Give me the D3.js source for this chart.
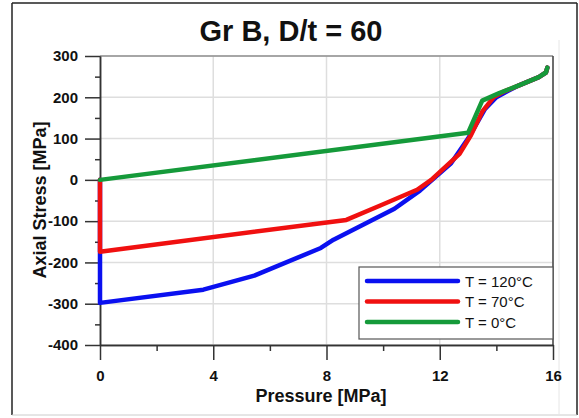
<!DOCTYPE html>
<html>
<head>
<meta charset="utf-8">
<script src="https://cdn.jsdelivr.net/npm/d3@7"></script>
<style>
  html, body { margin: 0; padding: 0; background: #fff; }
  svg { display: block; font-family: "Liberation Sans", Arial, sans-serif; }
</style>
</head>
<body>
<svg id="chart" width="579" height="418"></svg>
<script>
// Pressure [MPa] vs axial stress [MPa] for three temperatures
const seriesNames = ["T = 120°C", "T = 70°C", "T = 0°C"];
const seriesColors = ["#0a10f0", "#f01010", "#159a3a"];

const pressure120 = [0, 0, 3.65, 5.45, 7.8, 8.25, 10.4, 11.3, 12.4, 13.0, 13.6, 14.0, 14.4, 14.8, 15.5, 15.75, 15.8];
const stress120   = [0, -298, -266, -232, -165, -145, -70, -26, 40, 100, 172, 200, 215, 229, 249, 260, 272];

const pressure70 = [0, 0, 8.7, 9.9, 11.2, 11.7, 12.7, 13.1, 13.5, 13.9, 14.3, 14.8, 15.5, 15.75, 15.8];
const stress70   = [0, -174, -97, -62, -24, 0, 63, 108, 165, 200, 215, 229, 249, 260, 272];

const pressure0 = [0, 13.0, 13.5, 14.1, 14.8, 15.5, 15.75, 15.8];
const stress0   = [0, 114, 192, 210, 229, 249, 260, 272];

const xMajorTicks = [0, 4, 8, 12, 16];
const xMinorTicks = [2, 6, 10, 14];
const yMajorTicks = [300, 200, 100, 0, -100, -200, -300, -400];
const yMinorTicks = [250, 150, 50, -50, -150, -250, -350];

const series = [
  { name: seriesNames[0], color: seriesColors[0], px: pressure120, sy: stress120 },
  { name: seriesNames[1], color: seriesColors[1], px: pressure70, sy: stress70 },
  { name: seriesNames[2], color: seriesColors[2], px: pressure0, sy: stress0 }
];

const svg = d3.select("#chart");

const x = d3.scaleLinear().domain([0, 16]).range([100, 553]);
const y = d3.scaleLinear().domain([-400, 300]).range([345, 56]);

// outer frame
svg.append("line").attr("x1", 12).attr("x2", 12).attr("y1", 3).attr("y2", 415).attr("stroke", "#222").attr("stroke-width", 1.5);
svg.append("line").attr("x1", 12).attr("x2", 577).attr("y1", 3).attr("y2", 3).attr("stroke", "#222").attr("stroke-width", 1.5);
svg.append("line").attr("x1", 577).attr("x2", 577).attr("y1", 3).attr("y2", 415).attr("stroke", "#222").attr("stroke-width", 1.5);
svg.append("line").attr("x1", 12).attr("x2", 577).attr("y1", 415).attr("y2", 415).attr("stroke", "#ccc").attr("stroke-width", 1);
svg.append("line").attr("x1", 559).attr("x2", 559).attr("y1", 40).attr("y2", 415).attr("stroke", "#e6e6e6").attr("stroke-width", 1);

// title
svg.append("text")
  .attr("x", 291).attr("y", 41)
  .attr("text-anchor", "middle")
  .attr("font-size", 29).attr("font-weight", "bold")
  .attr("fill", "#111")
  .text("Gr B, D/t = 60");

// grid
const grid = svg.append("g");
grid.selectAll(".gy").data(yMajorTicks).join("line")
  .attr("x1", x(0)).attr("x2", x(16))
  .attr("y1", d => y(d)).attr("y2", d => y(d))
  .attr("stroke", "#dedede").attr("stroke-width", 1.5);
grid.selectAll(".gx").data(xMajorTicks.slice(1)).join("line")
  .attr("x1", d => x(d)).attr("x2", d => x(d))
  .attr("y1", y(300)).attr("y2", y(-400))
  .attr("stroke", "#dedede").attr("stroke-width", 1.5);

// plot border (top and right)
svg.append("line").attr("x1", x(0)).attr("x2", x(16)).attr("y1", y(300)).attr("y2", y(300)).attr("stroke", "#666").attr("stroke-width", 1.2);
svg.append("line").attr("x1", x(16)).attr("x2", x(16)).attr("y1", y(300)).attr("y2", y(-400)).attr("stroke", "#444").attr("stroke-width", 1.5);

// axes (plain hyphen for negative labels)
const plain = d => String(d);
const xAxisMajor = d3.axisBottom(x).tickValues(xMajorTicks).tickSize(15).tickSizeOuter(0).tickFormat(plain);
const xAxisMinor = d3.axisBottom(x).tickValues(xMinorTicks).tickSize(6).tickSizeOuter(0).tickFormat("");
const yAxisMajor = d3.axisLeft(y).tickValues(yMajorTicks).tickSize(15).tickSizeOuter(0).tickFormat(plain);
const yAxisMinor = d3.axisLeft(y).tickValues(yMinorTicks).tickSize(5).tickSizeOuter(0).tickFormat("");

function styleAxis(g) {
  g.select(".domain").attr("stroke", "#333").attr("stroke-width", 1.5);
  g.selectAll(".tick line").attr("stroke", "#333").attr("stroke-width", 1.5);
  g.selectAll(".tick text").attr("font-size", 15).attr("font-weight", "bold").attr("fill", "#111")
    .attr("font-family", "'Liberation Sans', Arial, sans-serif");
}

svg.append("g").attr("transform", `translate(0,${y(-400)})`).call(xAxisMinor).call(styleAxis);
svg.append("g").attr("transform", `translate(0,${y(-400)})`).call(xAxisMajor).call(styleAxis)
  .selectAll(".tick text").attr("dy", "0").attr("y", 36);
svg.append("g").attr("transform", `translate(${x(0)},0)`).call(yAxisMinor).call(styleAxis);
svg.append("g").attr("transform", `translate(${x(0)},0)`).call(yAxisMajor).call(styleAxis)
  .selectAll(".tick text").attr("x", -22);

// axis titles
svg.append("text")
  .attr("x", 321).attr("y", 402)
  .attr("text-anchor", "middle")
  .attr("font-size", 18).attr("font-weight", "bold").attr("fill", "#111")
  .text("Pressure [MPa]");
svg.append("text")
  .attr("transform", "translate(46,200) rotate(-90)")
  .attr("text-anchor", "middle")
  .attr("font-size", 18).attr("font-weight", "bold").attr("fill", "#111")
  .text("Axial Stress [MPa]");

// curves
const line = d3.line().x(d => x(d[0])).y(d => y(d[1]));
const plot = svg.append("g");
series.forEach(s => {
  const pts = s.px.map((p, i) => [p, s.sy[i]]);
  plot.append("path")
    .datum(pts)
    .attr("d", line)
    .attr("fill", "none")
    .attr("stroke", s.color)
    .attr("stroke-width", 4.5)
    .attr("stroke-linejoin", "round")
    .attr("stroke-linecap", "round");
});

// legend
const lg = svg.append("g");
lg.append("rect")
  .attr("x", 359).attr("y", 267).attr("width", 194).attr("height", 72)
  .attr("fill", "#fff").attr("stroke", "#555").attr("stroke-width", 1.2);
series.forEach((s, i) => {
  const yy = 281 + i * 20.5;
  lg.append("line")
    .attr("x1", 367).attr("x2", 458).attr("y1", yy).attr("y2", yy)
    .attr("stroke", s.color).attr("stroke-width", 4.5).attr("stroke-linecap", "round");
  lg.append("text")
    .attr("x", 465).attr("y", yy + 5.5)
    .attr("font-size", 15).attr("fill", "#111")
    .text(s.name);
});
</script>
</body>
</html>
